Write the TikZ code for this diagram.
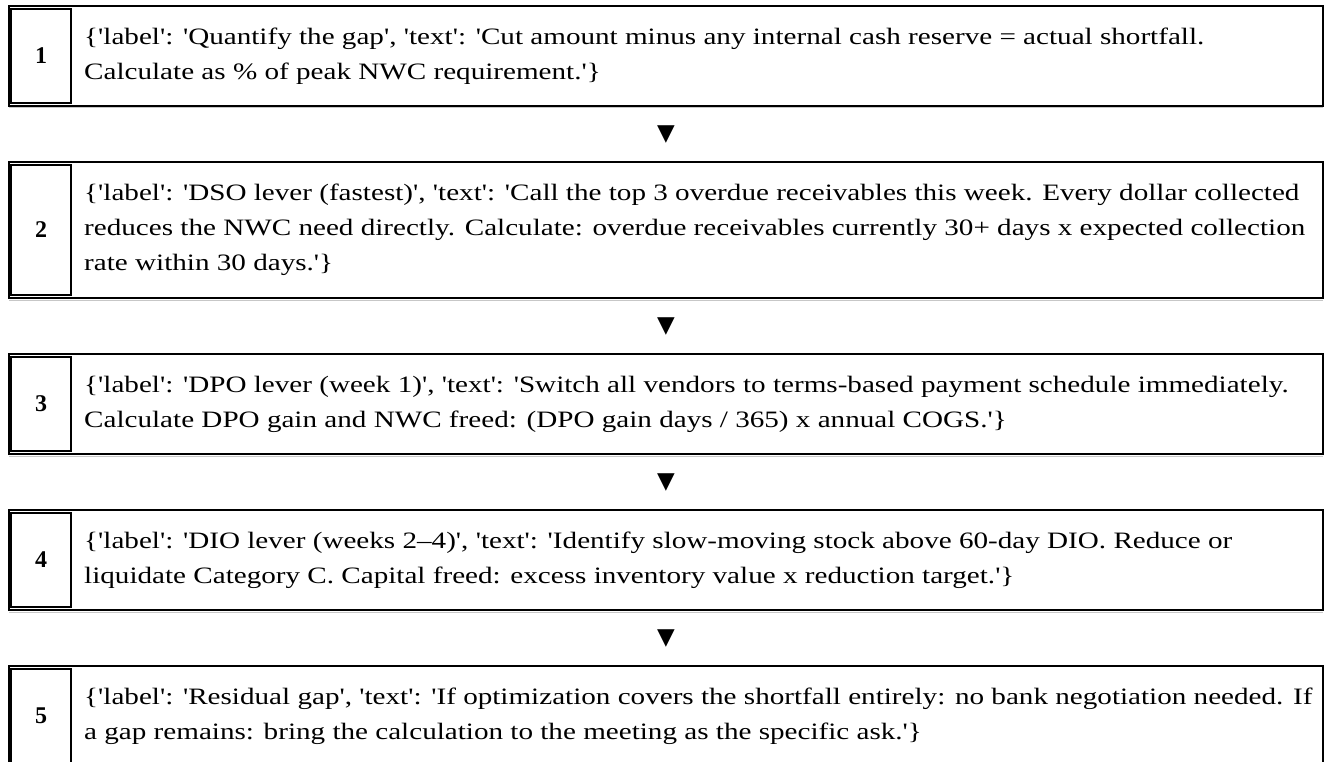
\documentclass[tikz,border=0pt]{standalone}
\usepackage{fontspec}
\usepackage{graphicx}
\setmainfont{Liberation Serif}[Ligatures=TeXOff]
\newfontfamily\symfont{DejaVu Sans}
\usetikzlibrary{calc}

\newcommand\bodysize{\fontsize{23.5pt}{35pt}\selectfont}
\newlength\widestline
\newcommand\hscale{1}

\tikzset{
  frame/.style={draw, line width=2pt, minimum width=1313.7pt, inner sep=0pt, outer sep=0pt},
  numcell/.style={draw, line width=2pt},
  numtext/.style={font=\bfseries\fontsize{24pt}{24pt}\selectfont, inner sep=0pt},
  bodytext/.style={anchor=west, inner sep=0pt},
  shadowline/.style={draw=black!22, line width=1pt},
  downmark/.style={font=\symfont\fontsize{23pt}{23pt}\selectfont, inner sep=0pt, yshift=-1pt},
}

% body text: lines stacked at a fixed baseline distance, widened by \hscale
\newcommand\bodylines[1]{\scalebox{\hscale}[1]{\vbox{\bodysize\baselineskip=35pt #1}}}

% #1 name, #2 top edge, #3 height, #4 number, #5 body lines
\newcommand\flowstep[5]{%
  \node[frame, minimum height=#3pt] (#1) at (665.85, #2+#3/2) {};
  \draw[shadowline] ([yshift=-2pt]#1.south west) -- ([yshift=-2pt]#1.south east);
  \draw[numcell] (11, #2+3) rectangle (71, #2+#3-3);
  \node[numtext] (#1n) at (41, #2+#3/2) {#4};
  \node[bodytext] (#1t) at (84, #2+#3/2) {\bodylines{#5}};
}

\begin{document}
% the widest line spans 1221pt
\settowidth\widestline{\normalfont\bodysize reduces the NWC need directly. Calculate: overdue receivables currently 30+ days x expected collection}%
\pgfmathsetmacro\hscale{1221/\widestline}%
\begin{tikzpicture}[x=1pt, y=-1pt]
  \useasboundingbox (0,0) rectangle (1324,762);
  \fill[white] (0,0) rectangle (1324,762);

  \flowstep{s1}{6}{100}{1}{%
    \hbox{\{'label': 'Quantify the gap', 'text': 'Cut amount minus any internal cash reserve = actual shortfall.}
    \hbox{Calculate as \% of peak NWC requirement.'\}}}
  \flowstep{s2}{162}{136}{2}{%
    \hbox{\{'label': 'DSO lever (fastest)', 'text': 'Call the top 3 overdue receivables this week. Every dollar collected}
    \hbox{reduces the NWC need directly. Calculate: overdue receivables currently 30+ days x expected collection}
    \hbox{rate within 30 days.'\}}}
  \flowstep{s3}{354}{100}{3}{%
    \hbox{\{'label': 'DPO lever (week 1)', 'text': 'Switch all vendors to terms-based payment schedule immediately.}
    \hbox{Calculate DPO gain and NWC freed: (DPO gain days / 365) x annual COGS.'\}}}
  \flowstep{s4}{510}{100}{4}{%
    \hbox{\{'label': 'DIO lever (weeks 2–4)', 'text': 'Identify slow-moving stock above 60-day DIO. Reduce or}
    \hbox{liquidate Category C. Capital freed: excess inventory value x reduction target.'\}}}
  \flowstep{s5}{666}{100}{5}{%
    \hbox{\{'label': 'Residual gap', 'text': 'If optimization covers the shortfall entirely: no bank negotiation needed. If}
    \hbox{a gap remains: bring the calculation to the meeting as the specific ask.'\}}}

  % down markers between consecutive steps
  \node[downmark] (a1) at ($(s1.south)!0.5!(s2.north)$) {▼};
  \node[downmark] (a2) at ($(s2.south)!0.5!(s3.north)$) {▼};
  \node[downmark] (a3) at ($(s3.south)!0.5!(s4.north)$) {▼};
  \node[downmark] (a4) at ($(s4.south)!0.5!(s5.north)$) {▼};
\end{tikzpicture}
\end{document}
